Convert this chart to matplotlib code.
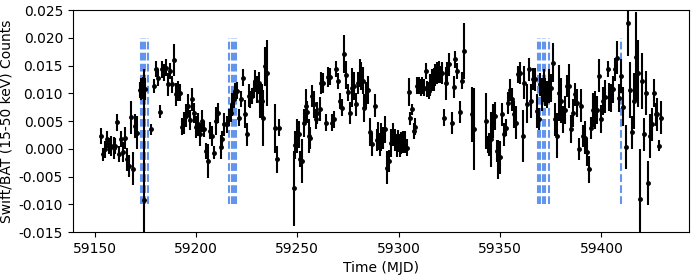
import matplotlib
matplotlib.use('Agg')
from matplotlib import pyplot as plt
from matplotlib.ticker import MultipleLocator, FormatStrFormatter

# Swift/BAT daily light curve
mjd = [59153.1, 59154.2, 59155.0, 59156.2, 59157.2, 59158.3, 59159.5, 59160.3, 59161.1, 59162.0,
       59163.1, 59164.0, 59165.1, 59166.1, 59166.9, 59168.1, 59169.2, 59170.0, 59171.0, 59172.2,
       59172.9, 59173.7, 59174.4, 59175.0, 59178.1, 59179.3, 59180.3, 59181.3, 59182.3, 59183.3,
       59184.1, 59185.1, 59186.1, 59187.1, 59188.1, 59189.2, 59190.2, 59191.2, 59192.2, 59193.2,
       59194.2, 59195.1, 59196.1, 59197.1, 59198.1, 59199.1, 59200.1, 59201.1, 59202.1, 59203.1,
       59204.1, 59205.1, 59206.1, 59207.1, 59208.1, 59209.0, 59210.0, 59211.1, 59212.3, 59213.1,
       59214.1, 59215.1, 59216.1, 59217.1, 59217.7, 59218.6, 59219.4, 59220.2, 59221.2, 59222.2,
       59223.2, 59224.2, 59225.0, 59226.0, 59226.8, 59227.6, 59228.5, 59229.3, 59230.1, 59230.9,
       59231.8, 59232.6, 59233.3, 59234.1, 59235.1, 59239.2, 59240.2, 59241.2, 59248.3, 59249.1,
       59249.9, 59250.7, 59251.4, 59252.2, 59253.2, 59254.1, 59254.9, 59255.7, 59256.5, 59257.3,
       59258.2, 59259.0, 59259.8, 59261.0, 59261.8, 59262.8, 59264.1, 59265.1, 59266.1, 59267.1,
       59268.1, 59269.2, 59270.2, 59271.2, 59272.0, 59273.2, 59274.2, 59275.2, 59276.2, 59277.0,
       59278.0, 59279.1, 59280.1, 59280.8, 59281.6, 59282.3, 59283.1, 59284.1, 59285.0, 59286.1,
       59286.9, 59288.2, 59289.2, 59290.0, 59290.8, 59291.5, 59292.3, 59293.2, 59294.2, 59295.0,
       59296.1, 59297.3, 59298.3, 59299.1, 59299.8, 59300.6, 59301.4, 59302.2, 59303.2, 59304.2,
       59305.0, 59305.8, 59306.7, 59307.5, 59308.3, 59309.2, 59310.0, 59310.8, 59311.6, 59312.5,
       59313.3, 59314.1, 59314.8, 59315.6, 59316.4, 59317.3, 59318.1, 59318.9, 59319.7, 59320.5,
       59321.3, 59322.2, 59323.2, 59324.0, 59324.8, 59326.3, 59327.1, 59328.0, 59329.0, 59330.3,
       59331.1, 59332.1, 59336.0, 59337.0, 59343.2, 59344.0, 59344.8, 59345.6, 59346.4, 59347.3,
       59348.3, 59349.1, 59350.1, 59351.1, 59352.1, 59353.1, 59354.1, 59355.1, 59355.8, 59356.8,
       59357.8, 59358.8, 59359.8, 59361.1, 59362.0, 59363.1, 59364.1, 59365.2, 59366.1, 59367.1,
       59368.1, 59369.1, 59369.9, 59370.7, 59371.5, 59372.4, 59373.2, 59374.2, 59375.0, 59376.1,
       59377.1, 59378.1, 59379.1, 59380.1, 59381.1, 59382.1, 59383.1, 59384.1, 59385.1, 59386.1,
       59387.1, 59388.1, 59389.0, 59390.0, 59391.0, 59392.0, 59393.0, 59394.0, 59395.0, 59396.0,
       59397.0, 59398.0, 59399.0, 59400.0, 59401.0, 59402.0, 59403.2, 59403.9, 59404.9, 59405.8,
       59406.8, 59407.8, 59408.8, 59409.8, 59410.9, 59412.0, 59413.1, 59414.1, 59415.1, 59416.1,
       59417.1, 59418.1, 59419.2, 59420.2, 59421.2, 59422.2, 59423.2, 59424.2, 59425.2, 59426.1,
       59426.8, 59427.5, 59428.3, 59429.3]

rate = [0.0023, -0.0010, -0.0001, 0.0017, 0.0005, 0.0005, 0.0002, 0.0005, 0.0048, -0.0009,
        0.0018, -0.0006, 0.0020, -0.0019, -0.0031, 0.0057, -0.0036, 0.0041, 0.0029, 0.0106,
        0.0108, 0.0110, -0.0093, 0.0108, 0.0035, 0.0113, 0.0144, 0.0128, 0.0067, 0.0143,
        0.0138, 0.0146, 0.0116, 0.0140, 0.0116, 0.0160, 0.0098, 0.0104, 0.0101, 0.0040,
        0.0047, 0.0060, 0.0078, 0.0052, 0.0089, 0.0065, 0.0040, 0.0044, 0.0026, 0.0050,
        0.0036, -0.0004, -0.0022, 0.0033, 0.0024, -0.0007, 0.0050, 0.0064, 0.0003, 0.0017,
        0.0044, 0.0044, 0.0056, 0.0064, 0.0080, 0.0089, 0.0104, 0.0105, 0.0056, 0.0090,
        0.0128, 0.0063, 0.0026, 0.0096, 0.0089, 0.0095, 0.0107, 0.0122, 0.0107, 0.0119,
        0.0086, 0.0086, 0.0056, 0.0149, 0.0137, 0.0037, -0.0019, 0.0038, -0.0071, 0.0007,
        0.0023, 0.0026, -0.0018, -0.0022, 0.0047, 0.0077, 0.0066, 0.0023, 0.0020, 0.0095,
        0.0080, 0.0053, 0.0064, 0.0072, 0.0119, 0.0119, 0.0047, 0.0130, 0.0130, 0.0047,
        0.0053, 0.0144, 0.0122, 0.0086, 0.0074, 0.0171, 0.0133, 0.0102, 0.0064, 0.0110,
        0.0113, 0.0080, 0.0119, 0.0137, 0.0131, 0.0123, 0.0074, 0.0096, 0.0106, 0.0030,
        0.0008, 0.0078, 0.0016, 0.0023, 0.0008, 0.0022, 0.0020, 0.0035, -0.0034, -0.0022,
        0.0010, 0.0026, 0.0016, 0.0006, 0.0014, 0.0006, 0.0010, 0.0013, 0.0012, 0.0002,
        0.0103, 0.0055, 0.0071, 0.0032, 0.0040, 0.0114, 0.0114, 0.0110, 0.0114, 0.0110,
        0.0140, 0.0108, 0.0105, 0.0115, 0.0124, 0.0125, 0.0133, 0.0137, 0.0139, 0.0134,
        0.0137, 0.0056, 0.0118, 0.0137, 0.0152, 0.0047, 0.0112, 0.0161, 0.0140, 0.0067,
        0.0123, 0.0176, 0.0062, 0.0036, 0.0050, 0.0008, 0.0008, 0.0017, 0.0050, 0.0059,
        -0.0004, -0.0019, -0.0015, 0.0062, 0.0026, 0.0038, 0.0083, 0.0106, 0.0089, 0.0062,
        0.0047, 0.0134, 0.0137, 0.0023, 0.0119, 0.0081, 0.0143, 0.0086, 0.0126, 0.0125,
        0.0068, 0.0054, 0.0116, 0.0098, 0.0114, 0.0103, 0.0098, 0.0113, 0.0110, 0.0155,
        0.0053, 0.0024, 0.0101, 0.0087, 0.0053, 0.0070, 0.0113, 0.0113, 0.0036, 0.0065,
        0.0098, 0.0083, 0.0000, 0.0078, 0.0023, 0.0020, -0.0006, -0.0037, 0.0038, 0.0070,
        0.0070, 0.0070, 0.0132, 0.0054, 0.0086, 0.0094, 0.0144, 0.0094, 0.0092, 0.0107,
        0.0143, 0.0164, 0.0092, 0.0131, 0.0076, 0.0003, 0.0227, 0.0106, 0.0030, 0.0086,
        0.0166, 0.0136, -0.0090, 0.0122, 0.0026, 0.0101, -0.0061, 0.0023, 0.0044, 0.0100,
        0.0062, 0.0062, 0.0006, 0.0056]

rate_err = [0.0015, 0.0012, 0.0015, 0.0015, 0.0015, 0.0018, 0.0020, 0.0015, 0.0015, 0.0015,
            0.0015, 0.0018, 0.0020, 0.0020, 0.0020, 0.0030, 0.0030, 0.0022, 0.0030, 0.0015,
            0.0020, 0.0020, 0.0237, 0.0020, 0.0010, 0.0012, 0.0015, 0.0015, 0.0012, 0.0015,
            0.0015, 0.0015, 0.0020, 0.0015, 0.0015, 0.0028, 0.0020, 0.0018, 0.0015, 0.0015,
            0.0020, 0.0020, 0.0020, 0.0018, 0.0020, 0.0018, 0.0020, 0.0020, 0.0020, 0.0020,
            0.0015, 0.0015, 0.0030, 0.0015, 0.0018, 0.0012, 0.0025, 0.0018, 0.0022, 0.0015,
            0.0020, 0.0015, 0.0015, 0.0015, 0.0020, 0.0015, 0.0015, 0.0015, 0.0015, 0.0015,
            0.0015, 0.0025, 0.0020, 0.0020, 0.0015, 0.0015, 0.0015, 0.0020, 0.0025, 0.0020,
            0.0030, 0.0030, 0.0050, 0.0035, 0.0060, 0.0044, 0.0024, 0.0015, 0.0068, 0.0025,
            0.0030, 0.0025, 0.0015, 0.0040, 0.0025, 0.0030, 0.0020, 0.0030, 0.0020, 0.0020,
            0.0025, 0.0018, 0.0020, 0.0022, 0.0020, 0.0018, 0.0015, 0.0018, 0.0015, 0.0015,
            0.0015, 0.0015, 0.0015, 0.0015, 0.0015, 0.0035, 0.0025, 0.0015, 0.0020, 0.0035,
            0.0025, 0.0020, 0.0020, 0.0025, 0.0025, 0.0025, 0.0025, 0.0025, 0.0025, 0.0025,
            0.0020, 0.0020, 0.0020, 0.0025, 0.0020, 0.0025, 0.0020, 0.0025, 0.0030, 0.0020,
            0.0025, 0.0020, 0.0020, 0.0020, 0.0020, 0.0020, 0.0020, 0.0020, 0.0020, 0.0015,
            0.0025, 0.0012, 0.0010, 0.0015, 0.0015, 0.0015, 0.0015, 0.0015, 0.0015, 0.0015,
            0.0015, 0.0015, 0.0015, 0.0020, 0.0020, 0.0020, 0.0020, 0.0020, 0.0020, 0.0015,
            0.0020, 0.0015, 0.0030, 0.0020, 0.0020, 0.0020, 0.0020, 0.0015, 0.0015, 0.0020,
            0.0015, 0.0050, 0.0050, 0.0074, 0.0050, 0.0015, 0.0020, 0.0050, 0.0030, 0.0025,
            0.0020, 0.0035, 0.0030, 0.0020, 0.0020, 0.0015, 0.0020, 0.0020, 0.0020, 0.0025,
            0.0030, 0.0015, 0.0020, 0.0047, 0.0030, 0.0035, 0.0020, 0.0030, 0.0020, 0.0020,
            0.0030, 0.0020, 0.0020, 0.0030, 0.0030, 0.0025, 0.0025, 0.0030, 0.0025, 0.0035,
            0.0030, 0.0040, 0.0050, 0.0040, 0.0025, 0.0025, 0.0020, 0.0040, 0.0025, 0.0025,
            0.0020, 0.0025, 0.0020, 0.0030, 0.0020, 0.0030, 0.0025, 0.0025, 0.0020, 0.0030,
            0.0035, 0.0025, 0.0030, 0.0025, 0.0025, 0.0030, 0.0015, 0.0025, 0.0025, 0.0025,
            0.0020, 0.0030, 0.0025, 0.0030, 0.0035, 0.0040, 0.0060, 0.0050, 0.0030, 0.0050,
            0.0080, 0.0060, 0.0090, 0.0050, 0.0030, 0.0040, 0.0040, 0.0040, 0.0030, 0.0025,
            0.0020, 0.0030, 0.0010, 0.0030]

# epochs marked with dashed lines
marks = [59172.7, 59173.9, 59175.0, 59176.2,
         59216.4, 59217.6, 59218.7, 59219.7,
         59368.7, 59369.8, 59371.0, 59372.2, 59374.0,
         59409.8]

fig, ax = plt.subplots(figsize=(7, 2.8), dpi=100)
ax.vlines(marks, -0.01, 0.02, colors='cornflowerblue', linestyles='--', linewidth=1.5)
ax.errorbar(mjd, rate, yerr=rate_err, fmt='k.', markersize=5, elinewidth=1.5)

ax.set_ylim(-0.015, 0.025)
ax.yaxis.set_major_locator(MultipleLocator(0.005))
ax.yaxis.set_major_formatter(FormatStrFormatter('%.3f'))
ax.set_xlabel('Time (MJD)')
ax.set_ylabel('Swift/BAT (15-50 keV) Counts')
fig.subplots_adjust(left=0.104, right=0.984, top=0.964, bottom=0.171)
fig.savefig('out.png')
